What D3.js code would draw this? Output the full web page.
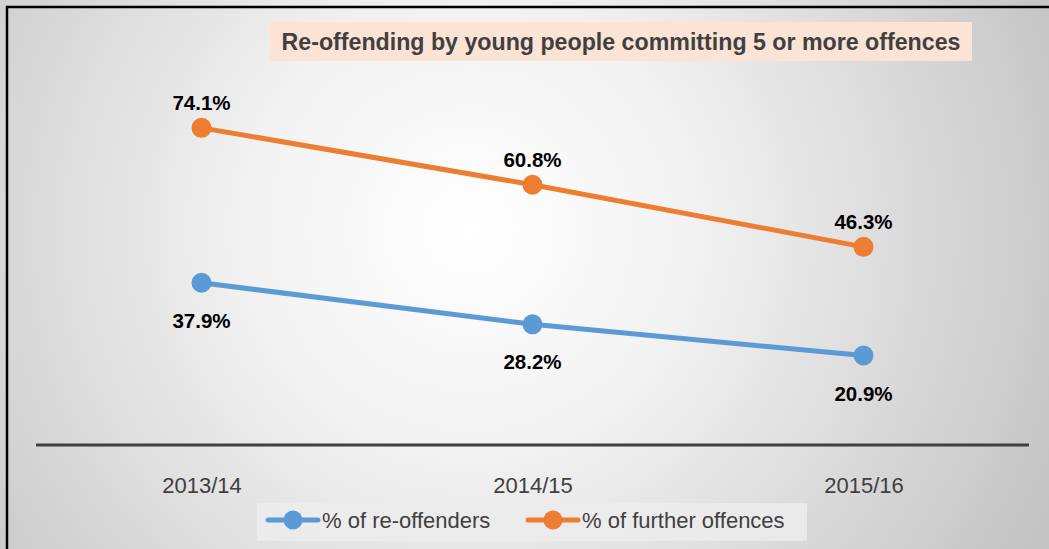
<!DOCTYPE html>
<html>
<head>
<meta charset="utf-8">
<script src="https://cdn.jsdelivr.net/npm/d3@7"></script>
<style>
  html, body { margin: 0; padding: 0; background: #ffffff; }
  svg { display: block; }
</style>
</head>
<body>
<svg id="chart" width="1049" height="549"></svg>
<script>
// Chart data
const years = ["2013/14", "2014/15", "2015/16"];
const reOffenders = [37.9, 28.2, 20.9];
const furtherOffences = [74.1, 60.8, 46.3];
const seriesNames = ["% of re-offenders", "% of further offences"];
const chartTitle = "Re-offending by young people committing 5 or more offences";

const W = 1049, H = 549;
const FONT = "'Liberation Sans', Arial, sans-serif";
const svg = d3.select("#chart");

// Background: radial gradient, light centre fading to grey edges
const defs = svg.append("defs");
const grad = defs.append("radialGradient")
  .attr("id", "bg").attr("gradientUnits", "userSpaceOnUse")
  .attr("cx", 470).attr("cy", 230).attr("r", 640);
grad.append("stop").attr("offset", "0%").attr("stop-color", "#ffffff");
grad.append("stop").attr("offset", "35%").attr("stop-color", "#f2f2f2");
grad.append("stop").attr("offset", "100%").attr("stop-color", "#c4c4c4");

svg.append("rect").attr("x", 0).attr("y", 0).attr("width", W).attr("height", H)
  .attr("fill", "url(#bg)");

// Frame edges (top and left)
svg.append("line").attr("x1", 6).attr("x2", W).attr("y1", 7).attr("y2", 7)
  .attr("stroke", "#000").attr("stroke-width", 2.5);
svg.append("line").attr("x1", 7).attr("x2", 7).attr("y1", 6).attr("y2", H)
  .attr("stroke", "#000").attr("stroke-width", 2.5);

// Scales
const x = d3.scalePoint().domain(years).range([36, 1029]).padding(0.5);
const y = d3.scaleLinear().domain([0, 80]).range([445, 102.6]);

const colors = ["#5b9bd5", "#ed7d31"];
const allSeries = [reOffenders, furtherOffences];

// Category axis
const xAxis = svg.append("g").attr("transform", `translate(0,${y(0)})`)
  .call(d3.axisBottom(x).tickSize(0).tickPadding(32));
xAxis.select(".domain").attr("d", "M36,0H1029")
  .attr("stroke", "#404040").attr("stroke-width", 3);
xAxis.selectAll("text")
  .attr("font-family", FONT)
  .attr("font-size", 22).attr("fill", "#404040");

// Lines and markers
const line = d3.line().x((d, i) => x(years[i])).y(d => y(d));
allSeries.forEach((vals, s) => {
  svg.append("path").datum(vals).attr("d", line)
    .attr("fill", "none").attr("stroke", colors[s])
    .attr("stroke-width", 5).attr("stroke-linecap", "round");
  svg.selectAll(null).data(vals).enter().append("circle")
    .attr("cx", (d, i) => x(years[i])).attr("cy", d => y(d))
    .attr("r", 10).attr("fill", colors[s]);
  // Value labels: above for further offences, below for re-offenders
  svg.selectAll(null).data(vals).enter().append("text")
    .attr("x", (d, i) => x(years[i]))
    .attr("y", d => s === 1 ? y(d) - 18 : y(d) + 45)
    .attr("text-anchor", "middle")
    .attr("font-family", FONT)
    .attr("font-weight", "bold").attr("font-size", 20.5)
    .attr("fill", "#000")
    .text(d => d.toFixed(1) + "%");
});

// Title banner
svg.append("rect").attr("x", 270).attr("y", 22).attr("width", 702).attr("height", 39)
  .attr("fill", "#fbe3d6");
svg.append("text").attr("x", 621).attr("y", 49.5).attr("text-anchor", "middle")
  .attr("font-family", FONT)
  .attr("font-weight", "bold").attr("font-size", 23.2).attr("fill", "#404040")
  .text(chartTitle);

// Legend
const legend = svg.append("g");
legend.append("rect").attr("x", 257).attr("y", 503).attr("width", 550).attr("height", 38)
  .attr("fill", "#ececec").attr("opacity", 0.85);
const legendX = [268, 528];
seriesNames.forEach((name, s) => {
  const g = legend.append("g").attr("transform", `translate(${legendX[s]},520)`);
  g.append("line").attr("x1", 0).attr("x2", 50).attr("y1", 0).attr("y2", 0)
    .attr("stroke", colors[s]).attr("stroke-width", 5).attr("stroke-linecap", "round");
  g.append("circle").attr("cx", 25).attr("cy", 0).attr("r", 9.5).attr("fill", colors[s]);
  g.append("text").attr("x", 54).attr("y", 8)
    .attr("font-family", FONT)
    .attr("font-size", 22).attr("fill", "#404040").text(name);
});
</script>
</body>
</html>
